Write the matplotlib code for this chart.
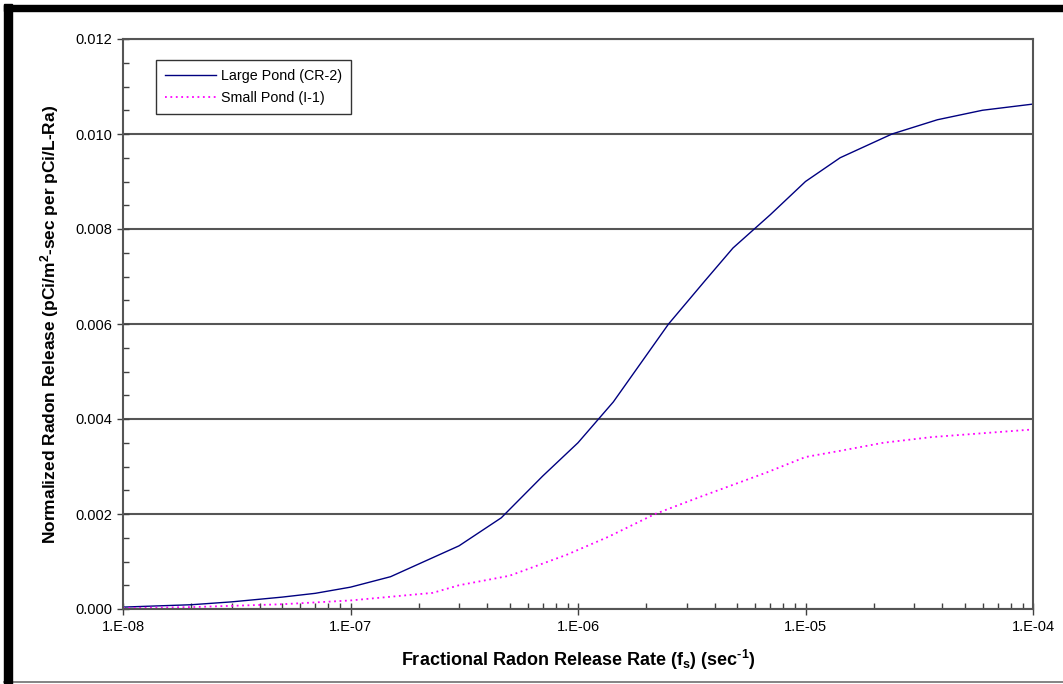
import numpy as np
import matplotlib
matplotlib.use('Agg')
import matplotlib.pyplot as plt
from matplotlib.ticker import FixedLocator, MultipleLocator, FuncFormatter, LogLocator, NullFormatter
from matplotlib.lines import Line2D

plt.rcParams['font.family'] = ['Liberation Sans', 'DejaVu Sans']
plt.rcParams['mathtext.fontset'] = 'custom'
plt.rcParams['mathtext.rm'] = 'Liberation Sans:bold'
plt.rcParams['mathtext.bf'] = 'Liberation Sans:bold'
plt.rcParams['mathtext.it'] = 'Liberation Sans:bold'

# Large Pond (CR-2)
large_x = [1e-8, 2e-8, 3e-8, 5e-8, 7e-8, 1e-7, 1.5e-7, 2e-7, 3e-7, 4.6e-7, 7e-7,
           1e-6, 1.43e-6, 2.5e-6, 3.6e-6, 4.8e-6, 7e-6, 1e-5, 1.42e-5, 2.4e-5,
           3.8e-5, 6e-5, 1e-4]
large_y = [0.00004, 0.00009, 0.00015, 0.00025, 0.00033, 0.00046, 0.00068, 0.00095,
           0.00133, 0.00192, 0.0028, 0.0035, 0.00436, 0.0060, 0.0069, 0.0076,
           0.0083, 0.0090, 0.0095, 0.0100, 0.0103, 0.0105, 0.01063]

# Small Pond (I-1)
small_x = [1e-8, 2e-8, 5e-8, 1e-7, 2.3e-7, 3e-7, 5e-7, 8.9e-7, 1.36e-6, 2.18e-6,
           3.44e-6, 6.8e-6, 1e-5, 1.42e-5, 2.2e-5, 3.6e-5, 6e-5, 1e-4]
small_y = [0.00002, 0.00004, 0.0001, 0.00018, 0.00034, 0.0005, 0.0007, 0.00114,
           0.00152, 0.0020, 0.00236, 0.00288, 0.0032, 0.00333, 0.0035, 0.00362,
           0.0037, 0.00378]

x_ticks = [1e-8, 1e-7, 1e-6, 1e-5, 1e-4]
x_labels = ['1.E-08', '1.E-07', '1.E-06', '1.E-05', '1.E-04']

fig = plt.figure(figsize=(10.63, 6.84), dpi=100)
ax = fig.add_axes([123/1063, 1-609/684, (1033-123)/1063, (609-39)/684])

# chart border (thick black top/left, thin gray bottom)
fig.patches.append(plt.Rectangle((4/1063, 0), 8/1063, 1-4/684, transform=fig.transFigure, color='black', zorder=5))
fig.patches.append(plt.Rectangle((4/1063, 1-11/684), 1, 6/684, transform=fig.transFigure, color='black', zorder=5))
fig.add_artist(Line2D([4/1063, 1], [1-682/684, 1-682/684], color='#707070', lw=1.2, transform=fig.transFigure))

ax.plot(large_x, large_y, color='#000080', lw=1.0, label='Large Pond (CR-2)')
ax.plot(small_x, small_y, color='#FF00FF', lw=1.3, linestyle=(0, (1, 2)), label='Small Pond (I-1)')

ax.set_xscale('log')
ax.set_xlim(1e-8, 1e-4)
ax.set_ylim(0, 0.012)
ax.xaxis.set_major_locator(FixedLocator(x_ticks))
ax.set_xticklabels(x_labels)
ax.xaxis.set_minor_locator(LogLocator(base=10, subs=np.arange(2, 10)))
ax.xaxis.set_minor_formatter(NullFormatter())
ax.yaxis.set_major_locator(MultipleLocator(0.002))
ax.yaxis.set_minor_locator(MultipleLocator(0.0005))
ax.yaxis.set_major_formatter(FuncFormatter(lambda v, p: '%.3f' % v))

ax.tick_params(which='major', direction='inout', length=8, width=1, color='#404040',
               labelsize=10.5, pad=4)
ax.tick_params(which='minor', direction='in', length=4, width=1, color='#404040')
ax.grid(axis='y', which='major', color='#555555', lw=1.5)
ax.set_axisbelow(True)
for s in ax.spines.values():
    s.set_color('#555555')
    s.set_linewidth(1.5)

ax.set_ylabel(r'Normalized Radon Release (pCi/m$^{2}$-sec per pCi/L-Ra)',
              fontsize=12.5, fontweight='bold', labelpad=10)
ax.set_xlabel(r'Fractional Radon Release Rate (f$_{s}$) (sec$^{\text{-1}}$)',
              fontsize=13, fontweight='bold', labelpad=10)

leg = ax.legend(loc='upper left', bbox_to_anchor=(33/910, 1-21/570), fontsize=10.3,
                frameon=True, fancybox=False, borderpad=0.6, handlelength=3.6,
                labelspacing=0.6, handletextpad=0.35, borderaxespad=0)
leg.get_frame().set_edgecolor('black')
leg.get_frame().set_linewidth(1.0)

fig.savefig('out.png', dpi=100)
